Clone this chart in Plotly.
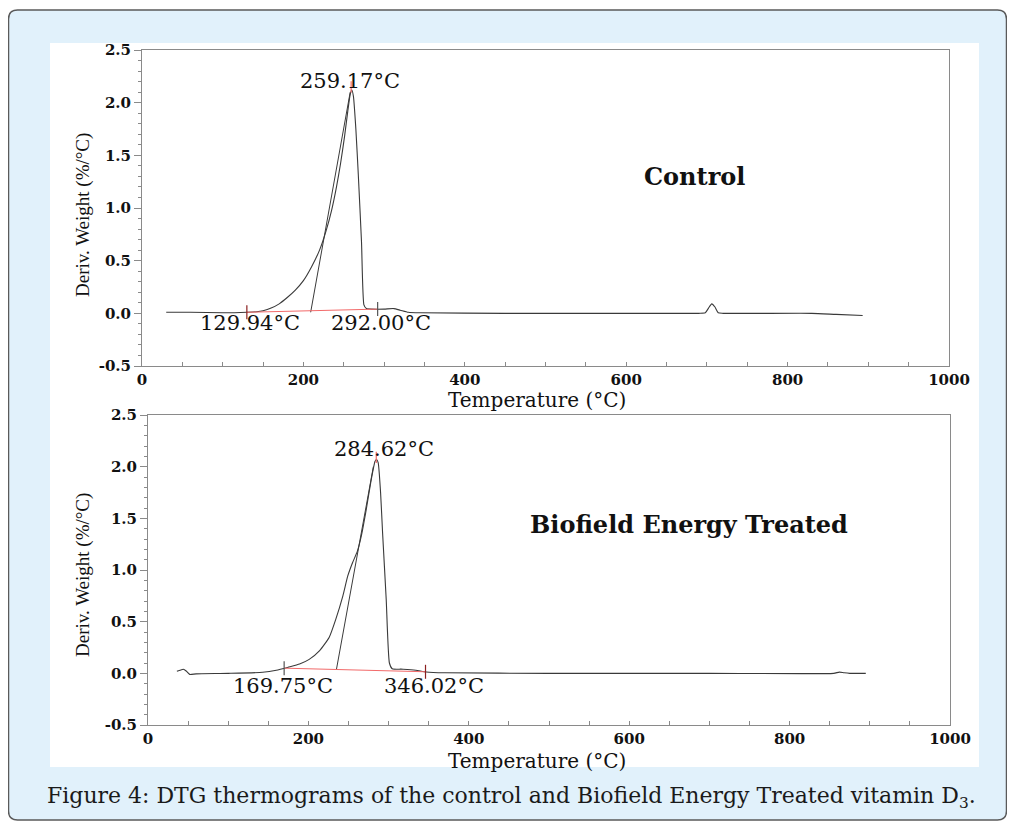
import plotly.graph_objects as go

# figure is placed inside the page body (8 px margin)
W, H = 999, 814
OFF = 8

# ---------------- data ----------------
ctrl_temp = [30, 60, 100, 130, 142, 150, 160, 170, 180, 190, 200, 210, 220, 228, 235, 241,
             246, 251, 255, 258, 260, 262, 265, 268, 272, 275, 278, 285, 300, 312, 320,
             330, 345, 450, 600, 690, 698, 702, 706, 710, 714, 720, 830, 860, 893]
ctrl_dtg = [0.01, 0.01, 0.005, 0.01, 0.015, 0.025, 0.05, 0.09, 0.15, 0.22, 0.31, 0.44, 0.60,
            0.78, 0.98, 1.20, 1.42, 1.68, 1.92, 2.08, 2.12, 2.06, 1.75, 1.32, 0.68, 0.08, 0.045,
            0.04, 0.04, 0.045, 0.03, 0.01, 0.005, 0.0, 0.0, 0.0, 0.005, 0.05, 0.09, 0.06, 0.005,
            0.0, 0.0, -0.01, -0.02]

treat_temp = [36, 40, 44, 48, 52, 60, 100, 143, 160, 175, 189, 201, 214, 226, 234, 243, 249,
              255, 261, 266, 272, 278, 283, 285, 287, 290, 292.5, 297, 301, 304.5, 318, 334,
              347, 370, 500, 700, 855, 862, 868, 875, 895]
treat_dtg = [0.02, 0.03, 0.04, 0.02, -0.01, -0.005, 0.0, 0.01, 0.03, 0.06, 0.09, 0.135, 0.22,
             0.35, 0.52, 0.75, 0.94, 1.07, 1.18, 1.33, 1.58, 1.86, 2.05, 2.07, 2.04, 1.75, 1.36,
             0.72, 0.10, 0.045, 0.04, 0.03, 0.013, 0.005, 0.0, 0.0, 0.0, 0.012, 0.005, 0.0, 0.0]

ctrl_tangent_x = [209, 258]
ctrl_tangent_y = [0.01, 2.10]
ctrl_base_x = [129.94, 292.00]
ctrl_base_y = [0.01, 0.04]
ctrl_peak = [259.17, 2.15]

treat_tangent_x = [235, 281]
treat_tangent_y = [0.04, 2.00]
treat_base_x = [169.75, 346.02]
treat_base_y = [0.05, 0.015]
treat_peak = [284.62, 2.09]

ctrl_labels = ["129.94°C", "292.00°C", "259.17°C"]
treat_labels = ["169.75°C", "346.02°C", "284.62°C"]
panel_names = ["Control", "Biofield Energy Treated"]
x_ticks = [0, 200, 400, 600, 800, 1000]
y_ticks = [-0.5, 0.0, 0.5, 1.0, 1.5, 2.0, 2.5]

# ---------------- helpers (window pixels -> paper fraction) ----------------
def px(x):
    return (x - OFF) / W

def py(y):
    return 1 - (y - OFF) / H

CURVE = "#3a3a3a"
RED = "#f26a6a"
AX = "#8a8a8a"

fig = go.Figure()

def add_panel(xa, ya, temp, dtg, tx, ty, bx, by, peak, tick_cols):
    fig.add_trace(go.Scatter(x=temp, y=dtg, mode="lines", xaxis=xa, yaxis=ya,
                             line=dict(color=CURVE, width=1.1, shape="spline", smoothing=0.5),
                             showlegend=False, hoverinfo="skip"))
    fig.add_trace(go.Scatter(x=tx, y=ty, mode="lines", xaxis=xa, yaxis=ya,
                             line=dict(color=CURVE, width=1), showlegend=False, hoverinfo="skip"))
    fig.add_trace(go.Scatter(x=bx, y=by, mode="lines+markers", xaxis=xa, yaxis=ya,
                             line=dict(color=RED, width=1),
                             marker=dict(symbol="line-ns", size=10,
                                         line=dict(color=tick_cols, width=1.2)),
                             showlegend=False, hoverinfo="skip"))
    fig.add_trace(go.Scatter(x=[peak[0]], y=[peak[1]], mode="markers", xaxis=xa, yaxis=ya,
                             marker=dict(symbol="line-ns", size=8, line=dict(color=RED, width=1.2)),
                             showlegend=False, hoverinfo="skip"))

add_panel("x", "y", ctrl_temp, ctrl_dtg, ctrl_tangent_x, ctrl_tangent_y,
          ctrl_base_x, ctrl_base_y, ctrl_peak, ["#8b2020", "#555555"])
add_panel("x2", "y2", treat_temp, treat_dtg, treat_tangent_x, treat_tangent_y,
          treat_base_x, treat_base_y, treat_peak, ["#555555", "#8b2020"])

tickfont = dict(family="DejaVu Serif", size=15, color="#111", weight="bold")

def xaxis_cfg(dom, anchor):
    return dict(domain=dom, anchor=anchor, range=[0, 1000], tickvals=x_ticks,
                ticktext=[str(v) for v in x_ticks],
                showline=True, linecolor=AX, linewidth=1, mirror=True,
                ticks="inside", ticklen=4, tickcolor=AX, tickwidth=1,
                minor=dict(dtick=50, tick0=0, ticks="inside", ticklen=4, tickcolor=AX),
                showgrid=False, zeroline=False, tickfont=tickfont, fixedrange=True,
                automargin=False)

def yaxis_cfg(dom, anchor):
    return dict(domain=dom, anchor=anchor, range=[-0.5, 2.5], tickvals=y_ticks,
                ticktext=[f"{v:.1f}" for v in y_ticks],
                showline=True, linecolor=AX, linewidth=1, mirror=True,
                ticks="outside", ticklen=7, tickcolor=AX, tickwidth=1,
                minor=dict(dtick=0.1, tick0=0, ticks="outside", ticklen=3, tickcolor=AX),
                showgrid=False, zeroline=False, tickfont=tickfont, fixedrange=True,
                automargin=False)

fig.update_layout(
    width=W, height=H, autosize=False,
    margin=dict(l=0, r=0, t=0, b=0),
    paper_bgcolor="white", plot_bgcolor="white",
    xaxis=xaxis_cfg([px(142), px(949)], "y"),
    yaxis=yaxis_cfg([py(366), py(50)], "x"),
    xaxis2=xaxis_cfg([px(148), px(950)], "y2"),
    yaxis2=yaxis_cfg([py(725), py(415)], "x2"),
)

# light blue rounded frame and white image area
r = 9
x0, y0, x1, y1 = 8.5, 10, 1006.5, 820
path = (f"M {px(x0 + r)},{py(y0)} L {px(x1 - r)},{py(y0)} "
        f"Q {px(x1)},{py(y0)} {px(x1)},{py(y0 + r)} L {px(x1)},{py(y1 - r)} "
        f"Q {px(x1)},{py(y1)} {px(x1 - r)},{py(y1)} L {px(x0 + r)},{py(y1)} "
        f"Q {px(x0)},{py(y1)} {px(x0)},{py(y1 - r)} L {px(x0)},{py(y0 + r)} "
        f"Q {px(x0)},{py(y0)} {px(x0 + r)},{py(y0)} Z")
fig.add_shape(type="path", path=path, xref="paper", yref="paper",
              fillcolor="#e1f1fb", line=dict(color="#5a5a5a", width=1.5), layer="below")
fig.add_shape(type="rect", xref="paper", yref="paper", x0=px(50), x1=px(979),
              y0=py(767), y1=py(43), fillcolor="white", line=dict(width=0), layer="below")

lab_font = dict(family="DejaVu Serif", size=21, color="#111")

def add_labels(xr, yr, labels, base_x, peak, peak_y, low_y, shifts):
    for xv, yv, txt, sh in [(base_x[0], low_y, labels[0], shifts[0]),
                            (base_x[1], low_y, labels[1], shifts[1]),
                            (peak[0], peak_y, labels[2], shifts[2])]:
        fig.add_annotation(x=xv, y=yv, xref=xr, yref=yr, text=txt, showarrow=False,
                           font=lab_font, xshift=sh, xanchor="center", yanchor="middle")

add_labels("x", "y", ctrl_labels, ctrl_base_x, ctrl_peak, 2.21, -0.095, [3, 3, -1])
add_labels("x2", "y2", treat_labels, treat_base_x, treat_peak, 2.17, -0.12, [-1, 8, 8])

name_font = dict(family="DejaVu Serif", size=24, color="#111", weight="bold")
fig.add_annotation(x=685, y=1.30, xref="x", yref="y", text=panel_names[0], showarrow=False,
                   font=name_font, xanchor="center", yanchor="middle")
fig.add_annotation(x=675, y=1.44, xref="x2", yref="y2", text=panel_names[1], showarrow=False,
                   font=name_font, xanchor="center", yanchor="middle")

# axis titles
title_font = dict(family="DejaVu Serif", size=20, color="#111")
ytitle_font = dict(family="Liberation Serif", size=19, color="#111")
for yc, xt in [(215, 400), (575, 761)]:
    fig.add_annotation(x=px(83), y=py(yc), xref="paper", yref="paper",
                       text="Deriv. Weight (%/°C)", textangle=-90, showarrow=False,
                       font=ytitle_font, xanchor="center", yanchor="middle")
    fig.add_annotation(x=px(537), y=py(xt), xref="paper", yref="paper",
                       text="Temperature (°C)", showarrow=False, font=title_font,
                       xanchor="center", yanchor="middle")

fig.add_annotation(x=px(511), y=py(797), xref="paper", yref="paper",
                   text="Figure 4: DTG thermograms of the control and Biofield Energy Treated vitamin D<sub>3</sub>.",
                   showarrow=False, xanchor="center", yanchor="middle",
                   font=dict(family="DejaVu Serif", size=22, color="#1a1a1a"))

fig.write_html("out.html")
